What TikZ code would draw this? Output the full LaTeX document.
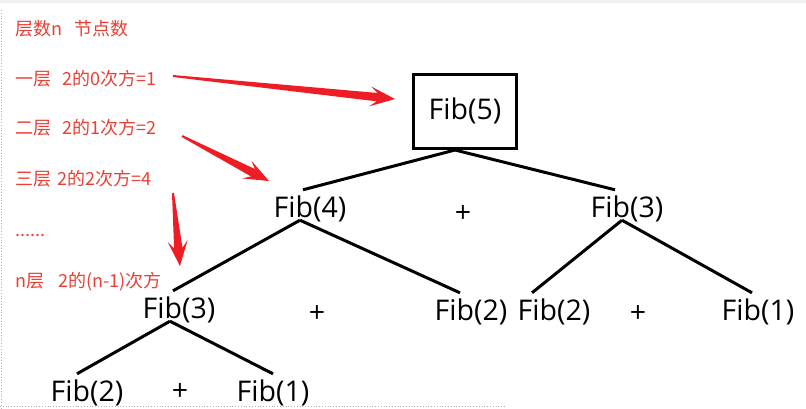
\documentclass[tikz,border=0pt]{standalone}
\usepackage{fontspec}
\setmainfont{Open Sans}
\newfontfamily\cjk{Noto Sans CJK SC}
\usetikzlibrary{calc}
\definecolor{arrowred}{RGB}{238,28,36}
\definecolor{notered}{RGB}{232,64,54}
\tikzset{fib node/.style={inner sep=0pt,text height=22pt,text depth=6pt,font=\fontsize{28.5}{30}\selectfont},
  root node/.style={fib node,draw,line width=3pt,minimum width=103pt,minimum height=74pt},
  note/.style={anchor=base west,inner sep=0pt,text=notered,font=\cjk\fontsize{18}{20}\selectfont},
  branch/.style={line width=3pt},}
\newcommand{\ed}[3]{\path[draw, branch] (#1) -- ([xshift=#3, yshift=5pt]#2.north);}
\newcommand{\pointer}[2]{\fill[arrowred] ($(#1)!1pt!90:(#2)$) -- ($(#2)!18pt!(#1)!4.2pt!90:(#2)$)
  -- ($(#2)!25pt!(#1)!10pt!90:(#2)$) -- (#2) -- ($(#2)!25pt!(#1)!10pt!-90:(#2)$)
  -- ($(#2)!18pt!(#1)!4.2pt!-90:(#2)$) -- ($(#1)!1pt!-90:(#2)$) -- cycle;}

\begin{document}
\begin{tikzpicture}[x=1pt,y=-1pt]
        \useasboundingbox (0,0) rectangle (806,408);
        % screenshot edges
        \draw[gray!12, line width=3pt] (0,1.5) -- (806,1.5);
        \draw[gray!60, dotted, line width=0.8pt] (1,10) -- (1,408);
        \draw[gray!60, dotted, line width=0.8pt] (0,406) -- (506,406);

        % notes
        \node[note] (n0) at (15,35) {层数n\hspace{12pt}节点数};
        \node[note] (n1) at (15,85) {一层\hspace{11pt}2的0次方=1};
        \node[note] (n2) at (15,134) {二层\hspace{11pt}2的1次方=2};
        \node[note] (n3) at (15,185) {三层\hspace{6pt}2的2次方=4};
        \node[note] (n4) at (15,236) {......};
        \node[note] (n5) at (15,287) {n层\hspace{14pt}2的(n-1)次方};

        % tree
        \node[root node] (f5) at (465,111.5) {Fib(5)};
        \node[fib node] (f4) at (310,209) {Fib(4)};
        \node[fib node] (p1) at (463,214) {+};
        \node[fib node] (f3r) at (627,209) {Fib(3)};
        \node[fib node] (f3l) at (179,310) {Fib(3)};
        \node[fib node] (p2) at (317,314) {+};
        \node[fib node] (f2a) at (471,312) {Fib(2)};
        \node[fib node] (f2b) at (554,312) {Fib(2)};
        \node[fib node] (p3) at (638,314) {+};
        \node[fib node] (f1a) at (758,312) {Fib(1)};
        \node[fib node] (f2c) at (87,393) {Fib(2)};
        \node[fib node] (p4) at (180,392) {+};
        \node[fib node] (f1b) at (273,393) {Fib(1)};

        \coordinate (k5) at ([xshift=-10pt]f5.south);
        \coordinate (k4) at ([xshift=-10pt,yshift=3pt]f4.south);
        \coordinate (k3r) at ([xshift=-5pt,yshift=3pt]f3r.south);
        \coordinate (k3l) at ([xshift=-9pt,yshift=3pt]f3l.south);

        \ed{k5}{f4}{-7pt}
        \ed{k5}{f3r}{-12pt}
        \ed{k4}{f3l}{-6pt}
        \ed{k4}{f2a}{-11pt}
        \ed{k3r}{f2b}{-22pt}
        \ed{k3r}{f1a}{-6pt}
        \ed{k3l}{f2c}{-10pt}
        \ed{k3l}{f1b}{0pt}

        % red arrows
        \coordinate (t1) at (173,76);  \coordinate (h1) at (395,99);
        \coordinate (t2) at (182,136); \coordinate (h2) at (269,181);
        \coordinate (t3) at (173,193); \coordinate (h3) at (180,266);
        \pointer{t1}{h1}
        \pointer{t2}{h2}
        \pointer{t3}{h3}
    \end{tikzpicture}
\end{document}
